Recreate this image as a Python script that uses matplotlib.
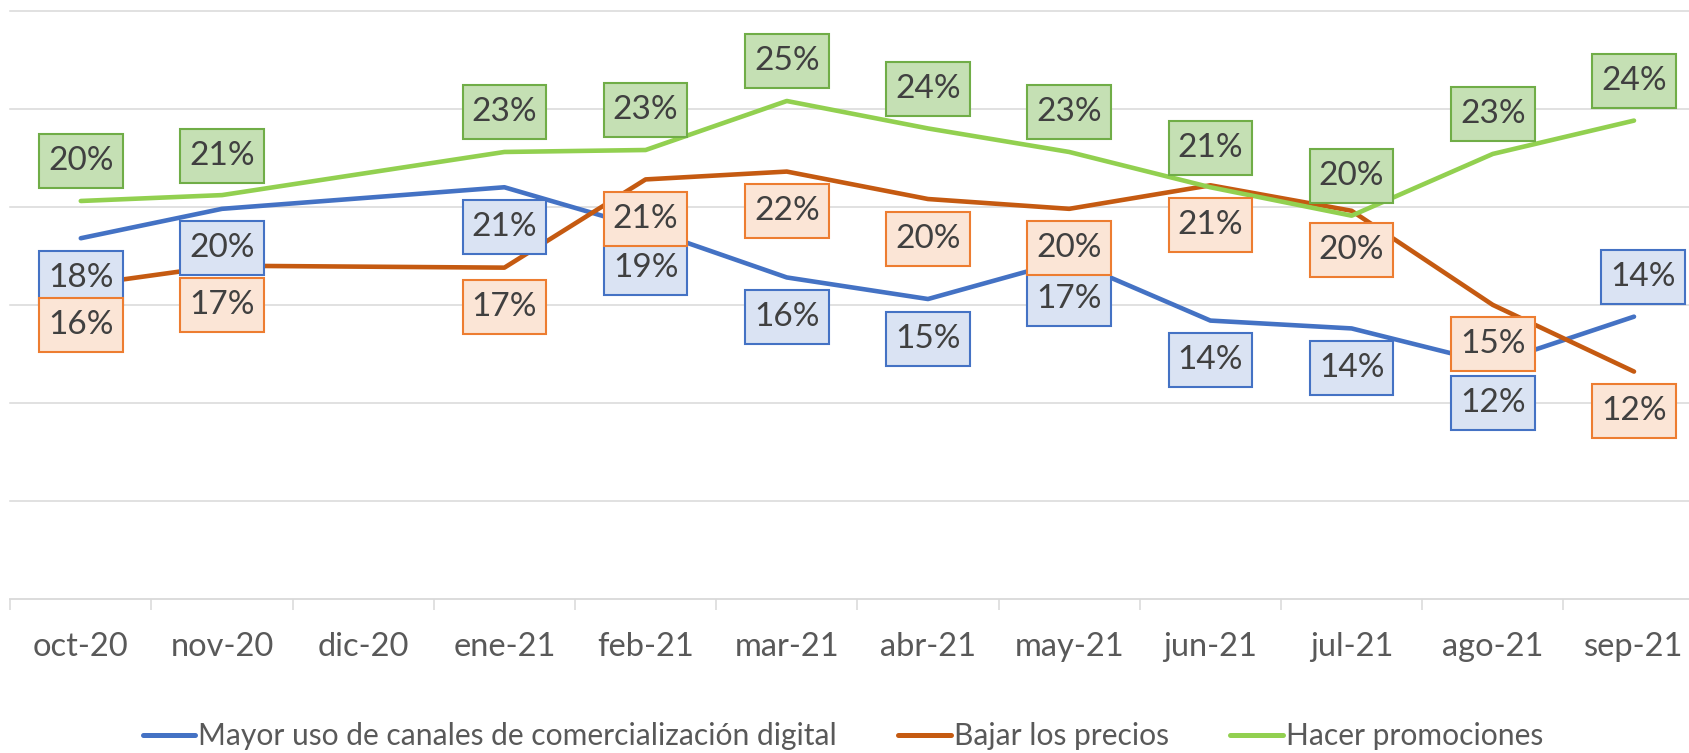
import numpy as np
import matplotlib
matplotlib.use("Agg")
import matplotlib.pyplot as plt
from matplotlib.lines import Line2D
from matplotlib.path import Path

# ---- data ----
months = ['oct-20', 'nov-20', 'dic-20', 'ene-21', 'feb-21', 'mar-21',
          'abr-21', 'may-21', 'jun-21', 'jul-21', 'ago-21', 'sep-21']
digital = [18.4, 19.9, None, 21.0, 18.9, 16.4, 15.3, 17.3, 14.2, 13.8, 12.0, 14.4]
precios = [16.0, 17.0, None, 16.9, 21.4, 21.8, 20.4, 19.9, 21.1, 19.8, 15.0, 11.6]
promos = [20.3, 20.6, None, 22.8, 22.9, 25.4, 24.0, 22.8, 21.0, 19.55, 22.7, 24.4]
series_names = ['Mayor uso de canales de comercialización digital',
                'Bajar los precios', 'Hacer promociones']

# ---- styles ----
line_colors = ['#4472C4', '#C55A11', '#92D050']
box_fill = ['#DAE3F3', '#FBE5D6', '#C5E0B4']
box_edge = ['#4472C4', '#ED7D31', '#70AD47']
# label placement per series: +1 above, -1 below
placement = [
    [-1, -1, 0, -1, -1, -1, -1, -1, -1, -1, -1, 1],
    [-1, -1, 0, -1, -1, -1, -1, -1, -1, -1, -1, -1],
    [1, 1, 0, 1, 1, 1, 1, 1, 1, 1, 1, 1],
]
xshift = [[0]*11 + [6.5], [0]*12, [0]*12]

FONT = 'Lato'
plt.rcParams['font.family'] = [FONT, 'DejaVu Sans']


def label_box(x0, y0, width, height, mutation_size):
    px = 0.27 * mutation_size
    py = 0.36 * mutation_size
    xa, xb = x0 - px, x0 + width + px
    ya, yb = y0 - py, y0 + height + py
    return Path([(xa, ya), (xb, ya), (xb, yb), (xa, yb), (xa, ya)],
                [Path.MOVETO, Path.LINETO, Path.LINETO, Path.LINETO, Path.CLOSEPOLY])


W, H = 1689, 753
fig = plt.figure(figsize=(W/100, H/100), dpi=100)
left_px, right_px = 10.2, 1704.6
top_px, bot_px = 10.8, 599.0
ax = fig.add_axes([left_px/W, (H-bot_px)/H, (right_px-left_px)/W, (bot_px-top_px)/H])

x = np.arange(len(months))
ax.set_xlim(-0.5, len(months)-0.5)
ax.set_ylim(0, 30)

for y in [5, 10, 15, 20, 25, 30]:
    ax.axhline(y, color='#D9D9D9', lw=1.1, zorder=0, clip_on=False)

all_series = [digital, precios, promos]
for i, s in enumerate(all_series):
    xs = [xi for xi, v in zip(x, s) if v is not None]
    ys = [v for v in s if v is not None]
    ax.plot(xs, ys, color=line_colors[i], lw=3.3, solid_capstyle='round',
            solid_joinstyle='round', zorder=2 + i * 0.1)

for i, s in enumerate(all_series):
    for j, v in enumerate(s):
        if v is None:
            continue
        ax.annotate(f"{v:.0f}%", (x[j], v), xytext=(xshift[i][j], 28.5 * placement[i][j]),
                    textcoords='offset points', ha='center', va='center',
                    fontsize=24, color='#404040', zorder=5 + i * 0.1,
                    bbox=dict(boxstyle=label_box, fc=box_fill[i],
                              ec=box_edge[i], lw=1.5))

for sp in ['top', 'right', 'left']:
    ax.spines[sp].set_visible(False)
ax.spines['bottom'].set_color('#D9D9D9')
ax.spines['bottom'].set_linewidth(1.3)
ax.set_yticks([])
ax.set_xticks(x)
ax.set_xticklabels(months)
ax.set_xticks(np.arange(-0.5, len(months)), minor=True)
ax.tick_params(axis='x', which='major', length=0, pad=24, labelsize=23.5, labelcolor='#595959')
ax.tick_params(axis='x', which='minor', length=8, width=1.1, color='#D9D9D9')

handles = [Line2D([0], [0], color=c, lw=3.6, solid_capstyle='round') for c in line_colors]
fig.legend(handles, series_names, loc='center', bbox_to_anchor=(0.499, 0.022),
           ncol=3, frameon=False, fontsize=21.6, labelcolor='#595959',
           handlelength=1.75, handletextpad=0.1, columnspacing=2.05)

fig.savefig('out.png', dpi=100)
